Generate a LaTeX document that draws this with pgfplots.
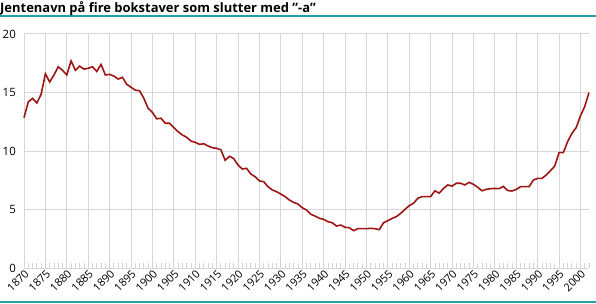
\documentclass[border=0pt]{standalone}
\usepackage{pgfplots}
\pgfplotsset{compat=1.18}
\usepackage{pgfplotstable}
\usepackage{fontspec}
\setmainfont{Open Sans}
\definecolor{linered}{RGB}{158,22,20}
\definecolor{gridgray}{RGB}{214,214,214}
\definecolor{teal2}{RGB}{40,160,165}
\pgfplotstableread{
year val
1870 12.85
1871 14.2
1872 14.5
1873 14.1
1874 14.85
1875 16.6
1876 15.9
1877 16.5
1878 17.2
1879 16.9
1880 16.5
1881 17.7
1882 16.9
1883 17.25
1884 17.0
1885 17.07
1886 17.2
1887 16.8
1888 17.4
1889 16.5
1890 16.55
1891 16.4
1892 16.15
1893 16.3
1894 15.7
1895 15.45
1896 15.2
1897 15.15
1898 14.5
1899 13.65
1900 13.3
1901 12.75
1902 12.8
1903 12.37
1904 12.37
1905 12.0
1906 11.65
1907 11.37
1908 11.17
1909 10.85
1910 10.74
1911 10.57
1912 10.62
1913 10.43
1914 10.28
1915 10.23
1916 10.1
1917 9.2
1918 9.55
1919 9.35
1920 8.8
1921 8.46
1922 8.52
1923 8.03
1924 7.8
1925 7.44
1926 7.38
1927 6.95
1928 6.67
1929 6.52
1930 6.32
1931 6.1
1932 5.81
1933 5.6
1934 5.47
1935 5.15
1936 4.96
1937 4.59
1938 4.44
1939 4.25
1940 4.16
1941 3.96
1942 3.87
1943 3.59
1944 3.67
1945 3.48
1946 3.44
1947 3.19
1948 3.36
1949 3.36
1950 3.36
1951 3.39
1952 3.36
1953 3.28
1954 3.87
1955 4.04
1956 4.24
1957 4.39
1958 4.67
1959 5.01
1960 5.33
1961 5.53
1962 5.96
1963 6.1
1964 6.1
1965 6.1
1966 6.6
1967 6.4
1968 6.8
1969 7.1
1970 7.0
1971 7.24
1972 7.24
1973 7.1
1974 7.32
1975 7.15
1976 6.9
1977 6.6
1978 6.72
1979 6.78
1980 6.8
1981 6.78
1982 6.98
1983 6.62
1984 6.58
1985 6.72
1986 6.95
1987 6.95
1988 6.95
1989 7.52
1990 7.66
1991 7.66
1992 7.95
1993 8.32
1994 8.72
1995 9.86
1996 9.86
1997 10.8
1998 11.5
1999 12.0
2000 13.0
2001 13.8
2002 15.0
}\datatable
\begin{document}
\begin{tikzpicture}[x=1bp,y=1bp]
\useasboundingbox (0,0) rectangle (596,303);
\draw[teal2, line width=1.5bp] (0,287) -- (596,287);
\draw[teal2, line width=1.5bp] (0,1) -- (596,1);
\node[anchor=north west, inner sep=0pt, font=\fontsize{13}{15}\selectfont\bfseries] at (0,302) {Jentenavn på fire bokstaver som slutter med \symbol{34}-a\symbol{34}};
\begin{axis}[
  at={(24bp,35bp)}, anchor=origin,
  scale only axis, width=565bp, height=234bp,
  xmin=1870, xmax=2002, ymin=0, ymax=20,
  axis x line*=bottom, axis y line*=left,
  axis line style={gridgray, line width=0.8bp},
  xtick={1870,1875,...,2000},
  minor xtick={1870,1871,...,2002},
  ytick={0,5,10,15,20},
  xticklabel style={rotate=45, anchor=north east, inner sep=0.5bp, font=\fontsize{11}{12}\selectfont},
  yticklabel style={font=\fontsize{11.5}{12}\selectfont, inner sep=1bp, xshift=-7bp},
  /pgf/number format/assume math mode=true,
  /pgf/number format/1000 sep={},
  xmajorgrids, ymajorgrids,
  major grid style={gridgray, line width=1bp},
  major tick length=0pt,
  minor tick length=5bp,
  tick align=inside,
  minor tick style={gridgray, line width=0.8bp},
  xtick pos=bottom, ytick pos=left,
  clip=false,
]
\addplot[linered, line width=1.6bp] table[x=year, y=val] {\datatable};
\end{axis}
\end{tikzpicture}
\end{document}
